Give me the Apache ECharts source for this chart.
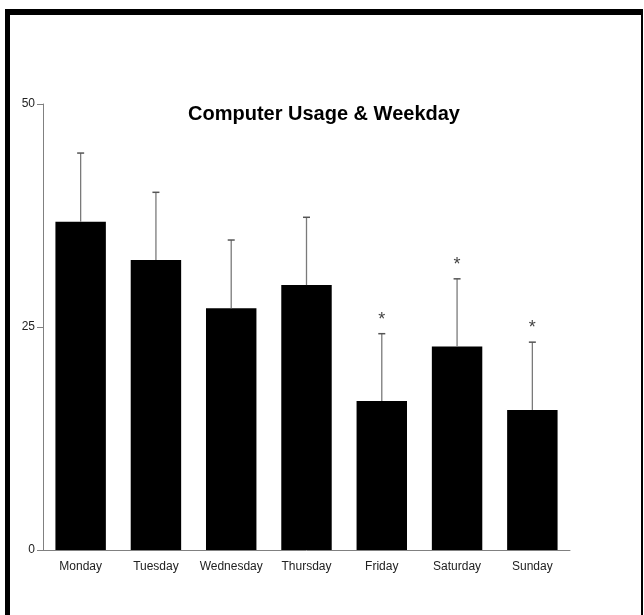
<!DOCTYPE html>
<html>
<head>
<meta charset="utf-8">
<script src="https://cdn.jsdelivr.net/npm/echarts@6/dist/echarts.min.js"></script>
<style>
html,body{margin:0;padding:0;background:#fff;}
#chart{width:644px;height:615px;}
</style>
</head>
<body>
<div id="chart"></div>
<script>
const categories = ['Monday','Tuesday','Wednesday','Thursday','Friday','Saturday','Sunday'];
const usage = [36.8, 32.5, 27.1, 29.7, 16.7, 22.8, 15.7];
const errorSD = [7.7, 7.6, 7.65, 7.6, 7.55, 7.6, 7.6];
const significance = ['', '', '', '', '*', '*', '*'];
const yTicks = [0, 25, 50];

const chart = echarts.init(document.getElementById('chart'), null, {renderer:'canvas'});
const font = 'Liberation Sans, Arial, sans-serif';

const errData = categories.map((c, i) => [i, usage[i], usage[i] + errorSD[i], significance[i]]);

chart.setOption({
  animation: false,
  backgroundColor: '#fff',
  title: {
    text: 'Computer Usage & Weekday',
    left: 319, top: 99, textAlign: 'center',
    textStyle: {fontFamily: font, fontSize: 20, fontWeight: 'bold', color: '#000'}
  },
  grid: {left: 43, right: 74, top: 104, bottom: 65, containLabel: false},
  xAxis: {
    type: 'category', data: categories,
    axisLine: {lineStyle: {color: '#808080', width: 1}},
    axisTick: {show: false},
    axisLabel: {fontFamily: font, fontSize: 12, color: '#222', margin: 11, interval: 0}
  },
  yAxis: {
    type: 'value', min: 0, max: 50, interval: 25,
    splitLine: {show: false},
    axisLine: {show: true, lineStyle: {color: '#808080', width: 1}},
    axisTick: {show: true, length: 6, lineStyle: {color: '#808080'}},
    axisLabel: {fontFamily: font, fontSize: 12, color: '#222', margin: 8,
      formatter: v => yTicks.includes(v) ? String(v) : ''}
  },
  series: [
    {
      type: 'bar', data: usage, barCategoryGap: '33%',
      itemStyle: {color: '#000'}
    },
    {
      type: 'custom', data: errData, z: 10,
      renderItem: function (params, api) {
        const x = api.coord([api.value(0), api.value(1)])[0];
        const yLow = api.coord([api.value(0), api.value(1)])[1];
        const yHigh = api.coord([api.value(0), api.value(2)])[1];
        const children = [
          {type: 'line', shape: {x1: x, y1: yLow, x2: x, y2: yHigh}, style: {stroke: '#7a7a7a', lineWidth: 1.3}},
          {type: 'line', shape: {x1: x - 3.5, y1: yHigh, x2: x + 3.5, y2: yHigh}, style: {stroke: '#555', lineWidth: 1.5}}
        ];
        const s = significance[params.dataIndex];
        if (s) {
          children.push({type: 'text', style: {text: s, x: x, y: yHigh - 5, textAlign: 'center', textVerticalAlign: 'bottom',
            fontFamily: font, fontSize: 18, fill: '#444'}});
        }
        return {type: 'group', children: children};
      }
    }
  ],
  graphic: [
    {type: 'rect', shape: {x: 5, y: 9, width: 5, height: 606}, style: {fill: '#000'}},
    {type: 'rect', shape: {x: 5, y: 9, width: 638, height: 6}, style: {fill: '#000'}},
    {type: 'rect', shape: {x: 641, y: 9, width: 2, height: 606}, style: {fill: '#000'}}
  ]
});
</script>
</body>
</html>
